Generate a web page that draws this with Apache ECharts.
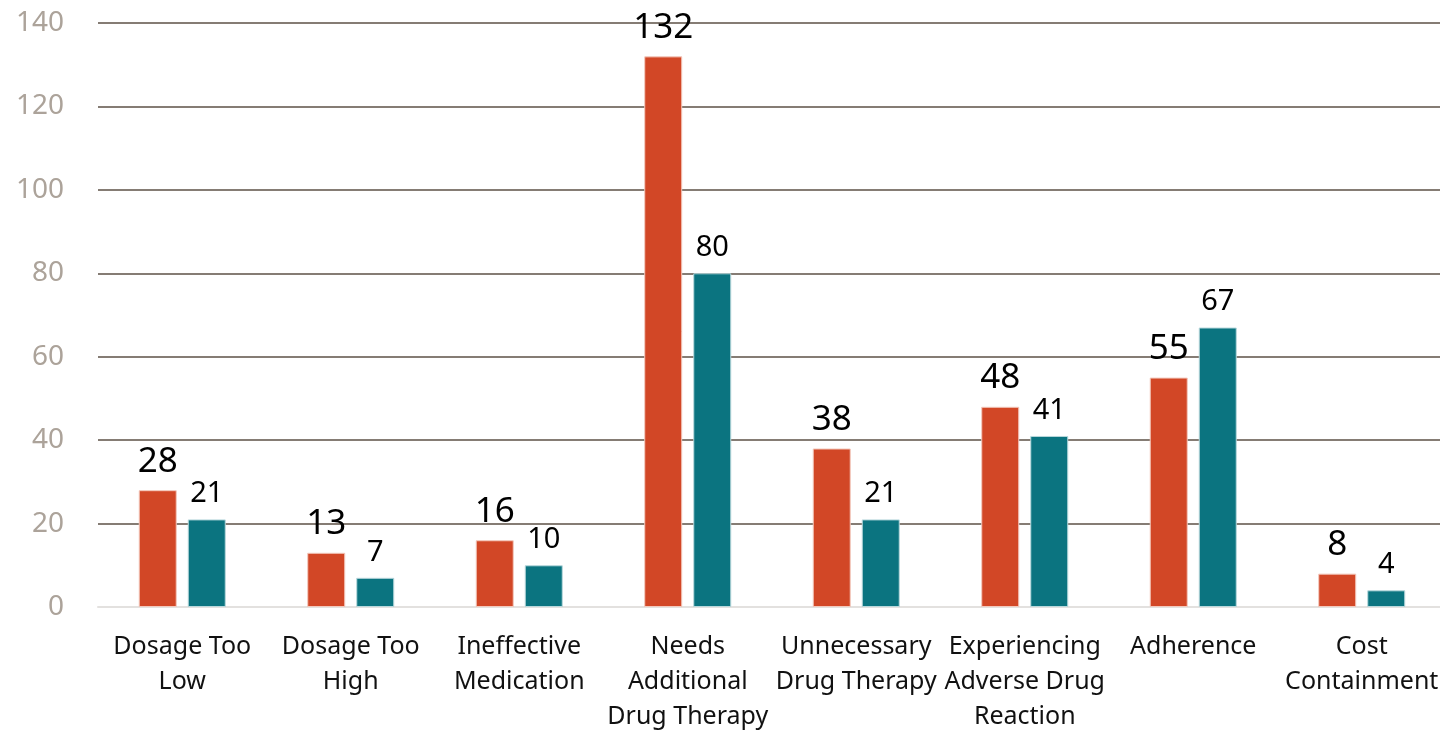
<!DOCTYPE html>
<html>
<head>
<meta charset="utf-8">
<script src="https://cdn.jsdelivr.net/npm/echarts@6/dist/echarts.min.js"></script>
<style>
  html, body { margin: 0; padding: 0; background: #fff; }
  #main { width: 1440px; height: 732px; }
</style>
</head>
<body>
<div id="main"></div>
<script>
var categories = [
  'Dosage Too\nLow',
  'Dosage Too\nHigh',
  'Ineffective\nMedication',
  'Needs\nAdditional\nDrug Therapy',
  'Unnecessary\nDrug Therapy',
  'Experiencing\nAdverse Drug\nReaction',
  'Adherence',
  'Cost\nContainment'
];
var seriesA = [28, 13, 16, 132, 38, 48, 55, 8];
var seriesB = [21, 7, 10, 80, 21, 41, 67, 4];

var myChart = echarts.init(document.getElementById('main'));

var font = '"Noto Sans", "Open Sans", sans-serif';

option = {
  animation: false,
  grid: {
    left: 98,
    width: 1348,
    top: 23,
    bottom: 125,
    outerBoundsMode: 'none'
  },
  xAxis: [{
    type: 'category',
    data: categories,
    axisLine: { show: true, lineStyle: { color: '#e3e1df', width: 2 } },
    axisTick: { show: false },
    axisLabel: {
      color: '#111',
      fontSize: 25,
      fontFamily: font,
      lineHeight: 35,
      margin: 22,
      interval: 0
    }
  }],
  yAxis: [{
    type: 'value',
    min: 0,
    max: 140,
    interval: 20,
    axisLine: { show: false },
    axisTick: { show: false },
    splitLine: { lineStyle: { color: '#857c74', width: 2 } },
    axisLabel: {
      color: '#aca39a',
      fontSize: 28,
      fontFamily: font,
      margin: 34
    }
  }],
  series: [{
    type: 'bar',
    data: seriesA,
    barWidth: 38,
    barGap: '29%',
    itemStyle: { color: '#d24726', borderColor: '#f3c9bd', borderWidth: 1 },
    label: {
      show: true,
      position: 'top',
      distance: 11,
      color: '#000',
      fontSize: 35,
      fontFamily: font
    }
  }, {
    type: 'bar',
    data: seriesB,
    barWidth: 38,
    itemStyle: { color: '#0b7480', borderColor: '#b9d8dc', borderWidth: 1 },
    label: {
      show: true,
      position: 'top',
      distance: 11,
      color: '#000',
      fontSize: 29,
      fontFamily: font
    }
  }]
};

myChart.setOption(option);
</script>
</body>
</html>
